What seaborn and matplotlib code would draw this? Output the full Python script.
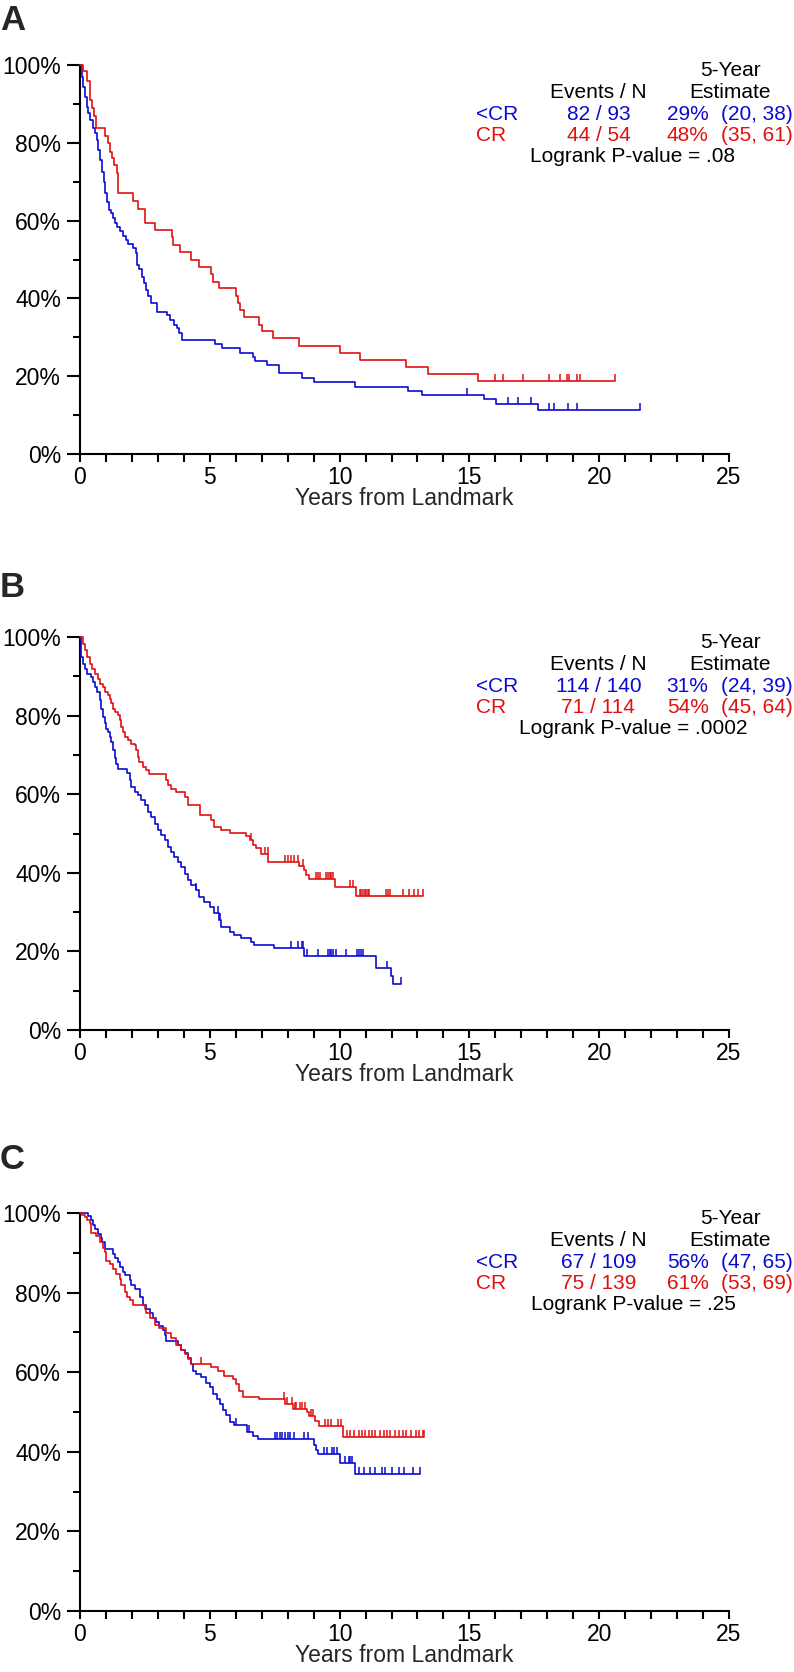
import numpy as np
import pandas as pd
import matplotlib
matplotlib.use("Agg")
import matplotlib.pyplot as plt
from matplotlib.path import Path
from matplotlib.ticker import MultipleLocator
import seaborn as sns

sns.set_style("white")
plt.rcParams['font.family'] = ['Liberation Sans', 'DejaVu Sans']

BLUE = '#0a0ad2'
RED = '#e01010'

panel_labels = ['A', 'B', 'C']
group_names = ['<CR', 'CR']
x_ticks = [0, 5, 10, 15, 20, 25]
y_ticks = [0, 20, 40, 60, 80, 100]
y_tick_labels = ['0%', '20%', '40%', '60%', '80%', '100%']
x_label = 'Years from Landmark'

# ---------------- Panel A ----------------
a_blue_t = [0.064, 0.128, 0.193, 0.257, 0.321, 0.385, 0.488, 0.578, 0.642, 0.706,
            0.771, 0.835, 0.925, 0.976, 1.028, 1.105, 1.208, 1.285, 1.349, 1.439,
            1.541, 1.670, 1.773, 1.863, 2.03, 2.158, 2.21, 2.287, 2.377, 2.466,
            2.543, 2.633, 2.723, 2.954, 3.34, 3.468, 3.622, 3.725, 3.815, 3.93,
            5.20, 5.46, 6.17, 6.68, 6.74, 7.19, 7.68, 8.54, 9.02, 10.60,
            12.65, 13.16, 15.55, 16.03, 17.66]
a_blue_s = [97, 94.4, 91.9, 89.3, 87.6, 85.9, 83.7, 82.4, 80.7, 78.1,
            75.6, 72.6, 70, 67, 64.9, 62.7, 61.9, 60.6, 59.5, 58.4,
            57.2, 56.1, 55, 53.9, 52.9, 51.6, 48.6, 47.5, 45.6, 43.9,
            42.2, 40.6, 38.7, 36.6, 35.7, 34.4, 33.2, 32.3, 31.2, 29.3,
            28.2, 27.2, 26.0, 25.0, 23.9, 22.9, 20.7, 19.6, 18.6, 17.3,
            16.3, 15.2, 14.1, 12.9, 11.3]
a_blue_cens = [14.90, 16.48, 16.89, 17.37, 18.08, 18.25, 18.79, 19.14, 21.59]
a_blue_end = 21.59

a_red_t = [0.10, 0.28, 0.39, 0.47, 0.55, 0.62, 0.98, 1.07, 1.16, 1.25, 1.32, 1.41, 1.48,
           2.05, 2.25, 2.50, 2.89, 3.53, 3.57, 3.85, 4.28, 4.57, 5.05, 5.14, 5.34,
           6.01, 6.09, 6.16, 6.33, 6.91, 7.00, 7.42, 8.45, 10.02, 10.77, 12.56, 13.39, 15.35]
a_red_s = [98.5, 96.0, 91.0, 89.0, 87.0, 83.7, 81.7, 79.9, 77.7, 76.0, 74.3, 72.3, 67.0,
           65.0, 63.0, 59.5, 57.6, 55.7, 53.7, 52.0, 50.0, 48.2, 46.3, 44.3, 42.6,
           40.6, 38.7, 37.0, 35.3, 33.2, 31.5, 29.7, 27.8, 25.9, 24.2, 22.4, 20.6, 18.8]
a_red_cens = [15.99, 16.31, 17.06, 18.06, 18.50, 18.76, 18.82, 19.14, 19.27, 20.62]
a_red_end = 20.62

# ---------------- Panel B ----------------
b_blue_t = [0.03, 0.05, 0.12, 0.18, 0.28, 0.41, 0.50, 0.59, 0.67, 0.76,
            0.82, 0.88, 0.95, 1.01, 1.08, 1.14, 1.21, 1.27, 1.33, 1.40,
            1.46, 1.82, 1.91, 1.97, 2.10, 2.23, 2.36, 2.49, 2.62, 2.74,
            2.87, 3.00, 3.13, 3.26, 3.38, 3.51, 3.64, 3.77, 3.90, 4.03,
            4.15, 4.28, 4.47, 4.60, 4.77, 4.99, 5.18, 5.37, 5.44, 5.76,
            5.95, 6.21, 6.59, 6.72, 7.49, 8.64, 11.39, 11.99, 12.05]
b_blue_s = [97.5, 94.9, 93.2, 91.9, 90.7, 89.8, 88.6, 87.3, 86.0, 83.9,
            81.8, 79.7, 78.0, 76.7, 75.8, 74.6, 73.3, 71.2, 69.1, 67.8,
            66.5, 65.3, 63.6, 61.9, 60.6, 59.7, 58.5, 57.2, 55.5, 54.2,
            52.5, 50.8, 49.6, 48.3, 46.6, 45.3, 44.1, 42.8, 41.5, 39.8,
            38.1, 36.9, 35.6, 33.9, 32.6, 31.4, 29.7, 28.0, 26.3, 25.0,
            24.2, 23.3, 22.5, 21.6, 20.8, 18.9, 15.8, 13.7, 11.8]
b_blue_cens = [4.48, 5.31, 5.40, 8.13, 8.39, 8.54, 8.59, 8.74, 9.17, 9.55, 9.62, 9.68,
               9.74, 9.85, 10.26, 10.67, 10.74, 10.83, 10.92, 11.82, 12.37]
b_blue_end = 12.37

b_red_t = [0.12, 0.21, 0.28, 0.37, 0.46, 0.56, 0.69, 0.76, 0.88, 0.95,
           1.08, 1.14, 1.21, 1.27, 1.36, 1.46, 1.53, 1.59, 1.65, 1.74,
           1.85, 1.95, 2.10, 2.17, 2.23, 2.29, 2.42, 2.55, 2.64, 3.32,
           3.38, 3.51, 3.71, 4.05, 4.15, 4.64, 5.05, 5.18, 5.44, 5.76,
           6.40, 6.53, 6.65, 6.78, 6.97, 7.26, 8.45, 8.62, 8.69, 8.82,
           9.81, 10.64]
b_red_s = [98.3, 96.6, 94.9, 93.2, 91.9, 90.7, 89.4, 88.1, 87.3, 86.0,
           85.2, 84.3, 83.1, 81.8, 80.9, 80.1, 78.8, 77.1, 75.8, 74.6,
           73.7, 72.9, 72.5, 71.2, 69.5, 68.2, 66.9, 66.1, 65.1, 63.6,
           62.3, 61.4, 60.6, 59.3, 57.2, 54.7, 53.4, 51.7, 50.8, 50.2,
           49.3, 48.3, 47.0, 46.2, 44.9, 42.8, 41.8, 40.8, 39.5, 38.4,
           36.5, 34.2]
b_red_cens = [6.59, 7.13, 7.23, 7.91, 8.00, 8.13, 8.26, 8.38, 8.58, 9.10, 9.17, 9.23,
              9.46, 9.55, 9.62, 9.68, 9.74, 10.41, 10.51, 10.77, 10.83, 10.90, 10.96,
              11.03, 11.09, 11.15, 11.77, 11.86, 11.95, 12.44, 12.69, 12.88, 13.01, 13.23]
b_red_end = 13.23

# ---------------- Panel C ----------------
c_blue_t = [0.31, 0.41, 0.50, 0.59, 0.69, 0.79, 0.85, 0.95,
            1.27, 1.33, 1.46, 1.56, 1.65, 1.72, 1.91, 1.97,
            2.10, 2.30, 2.42, 2.55, 2.68, 2.81, 2.94, 3.06, 3.19, 3.28, 3.32,
            3.77, 3.90, 4.03, 4.15, 4.28, 4.35, 4.47, 4.67, 4.86, 4.99,
            5.12, 5.26, 5.39, 5.51, 5.64, 5.76, 5.95,
            6.43, 6.66, 6.85, 9.00, 9.08, 9.15, 10.03, 10.60]
c_blue_s = [99.2, 98.3, 97.1, 95.9, 94.6, 93.8, 92.6, 90.9,
            89.7, 88.6, 87.6, 86.4, 85.1, 84.3, 83.1, 81.8,
            81.0, 78.9, 76.9, 76.0, 74.8, 73.6, 72.7, 71.5, 70.7, 69.4, 67.8,
            66.9, 65.7, 64.9, 63.6, 62.0, 60.3, 59.5, 58.7, 57.4, 56.2,
            54.5, 53.3, 52.1, 50.4, 49.2, 47.5, 46.7,
            45.1, 44.0, 43.1, 41.8, 40.4, 39.4, 37.3, 34.5]
c_blue_cens = [6.02, 6.50, 7.52, 7.60, 7.70, 7.80, 7.90, 8.00, 8.10, 8.23, 8.61, 8.80,
               9.38, 9.51, 9.70, 9.77, 9.90, 10.22, 10.35, 10.41, 10.48, 10.73, 10.93,
               11.18, 11.38, 11.63, 11.76, 12.02, 12.30, 12.49, 12.81, 13.11]
c_blue_end = 13.11

c_red_t = [0.08, 0.18, 0.28, 0.37, 0.41, 0.63, 0.76, 0.88, 0.95, 1.01,
           1.14, 1.27, 1.40, 1.53, 1.59, 1.72, 1.82, 1.91, 2.04, 2.49,
           2.55, 2.68, 2.87, 3.06, 3.32, 3.51, 3.71, 3.90, 4.03, 4.15,
           4.28, 5.05, 5.31, 5.56, 5.88, 6.01, 6.14, 6.27, 6.91, 7.88,
           8.21, 8.74, 8.82, 9.04, 9.20, 10.15]
c_red_s = [99.6, 99.0, 98.3, 97.5, 95.0, 94.2, 92.6, 91.3, 90.1, 88.0,
           87.2, 86.0, 84.7, 83.5, 81.8, 80.2, 78.9, 78.1, 76.9, 76.0,
           74.8, 73.6, 71.9, 71.1, 69.8, 68.6, 66.9, 65.7, 64.5, 63.2,
           62.0, 61.2, 60.3, 59.1, 58.3, 57.0, 55.4, 53.7, 53.3, 52.1,
           50.7, 49.9, 49.1, 47.8, 46.6, 43.6]
c_red_cens = [4.67, 7.85, 7.97, 8.18, 8.27, 8.33, 8.46, 8.56, 8.65, 8.91, 8.97, 9.42,
              9.55, 9.68, 9.94, 10.06, 10.28, 10.41, 10.54, 10.73, 10.86, 10.99, 11.12,
              11.25, 11.38, 11.57, 11.70, 11.83, 11.95, 12.15, 12.27, 12.43, 12.56,
              12.75, 12.94, 13.07, 13.20, 13.26]
c_red_end = 13.26

# ---------------- Legend tables ----------------
events_n = [['82 / 93', '44 / 54'], ['114 / 140', '71 / 114'], ['67 / 109', '75 / 139']]
five_year = [['29%', '48%'], ['31%', '54%'], ['56%', '61%']]
five_year_ci = [['(20, 38)', '(35, 61)'], ['(24, 39)', '(45, 64)'], ['(47, 65)', '(53, 69)']]
logrank_p = ['.08', '.0002', '.25']

curves = [
    [(a_blue_t, a_blue_s, a_blue_cens, a_blue_end), (a_red_t, a_red_s, a_red_cens, a_red_end)],
    [(b_blue_t, b_blue_s, b_blue_cens, b_blue_end), (b_red_t, b_red_s, b_red_cens, b_red_end)],
    [(c_blue_t, c_blue_s, c_blue_cens, c_blue_end), (c_red_t, c_red_s, c_red_cens, c_red_end)],
]
colors = [BLUE, RED]

W, H = 794, 1672
fig = plt.figure(figsize=(W / 100, H / 100), dpi=100)

# axes boxes in pixels: (left, top, right, bottom)
boxes = [(80, 65, 729, 454), (80, 637, 729, 1030), (80, 1213, 729, 1611)]
label_baselines = [30, 597, 1169]

censor_marker = Path([(0, 0), (0, 1)], [Path.MOVETO, Path.LINETO])

for i, (l, t, r, b) in enumerate(boxes):
    ax = fig.add_axes([l / W, 1 - b / H, (r - l) / W, (b - t) / H])
    for g, (times, surv, cens, end) in enumerate(curves[i]):
        xs = np.r_[0.0, times, end]
        ys = np.r_[100.0, surv, surv[-1]]
        df = pd.DataFrame({'t': xs, 's': ys})
        sns.lineplot(data=df, x='t', y='s', ax=ax, estimator=None, sort=False,
                     drawstyle='steps-post', color=colors[g], linewidth=1.2,
                     clip_on=False, zorder=3 + g)
        tt = np.asarray(times)
        idx = np.searchsorted(tt, np.asarray(cens), side='right') - 1
        cy = np.where(idx >= 0, np.asarray(surv)[np.clip(idx, 0, None)], 100.0)
        ax.plot(cens, cy, linestyle='none', marker=censor_marker, markersize=10,
                markeredgewidth=1.1, markeredgecolor=colors[g], clip_on=False,
                zorder=3 + g)

    ax.set_xlim(0, 25)
    ax.set_ylim(0, 100)
    for sp in ['top', 'right']:
        ax.spines[sp].set_visible(False)
    for sp in ['left', 'bottom']:
        ax.spines[sp].set_linewidth(1.5)
        ax.spines[sp].set_color('black')
    ax.set_xticks(x_ticks)
    ax.set_xticklabels([str(v) for v in x_ticks])
    ax.xaxis.set_minor_locator(MultipleLocator(1))
    ax.set_yticks(y_ticks)
    ax.set_yticklabels(y_tick_labels)
    ax.yaxis.set_minor_locator(MultipleLocator(10))
    ax.tick_params(axis='x', which='both', direction='out', length=5.5, width=1.5,
                   colors='black', labelsize=16.5, pad=3, bottom=True)
    ax.tick_params(axis='y', which='major', direction='out', length=9.5, width=1.5,
                   colors='black', labelsize=16.5, pad=4, left=True)
    ax.tick_params(axis='y', which='minor', direction='out', length=5, width=1.5,
                   colors='black', left=True)
    ax.set_xlabel(x_label, fontsize=16.5, labelpad=-1)
    ax.set_ylabel('')

    # legend-like table
    fs = 15
    def put(x, off_px, s, color='black', ha='center'):
        ax.annotate(s, xy=(x, 1), xycoords=('data', 'axes fraction'),
                    xytext=(0, -off_px * 0.72), textcoords='offset points',
                    ha=ha, va='center', color=color, fontsize=fs,
                    annotation_clip=False)
    put(25.04, 6, '5-Year')
    put(19.97, 27, 'Events / N')
    put(25.04, 27, 'Estimate')
    for g in range(2):
        off = 49 + 21.5 * g
        put(15.25, off, group_names[g], colors[g], 'left')
        put(19.97, off, events_n[i][g], colors[g], 'center')
        put(22.6, off, five_year[i][g], colors[g], 'left')
        put(24.68, off, five_year_ci[i][g], colors[g], 'left')
    put(21.3, 92, 'Logrank P-value = ' + logrank_p[i])

    fig.text(0.0, 1 - label_baselines[i] / H, panel_labels[i], fontsize=25,
             fontweight='bold', ha='left', va='baseline')

fig.savefig('out.png', dpi=100)
